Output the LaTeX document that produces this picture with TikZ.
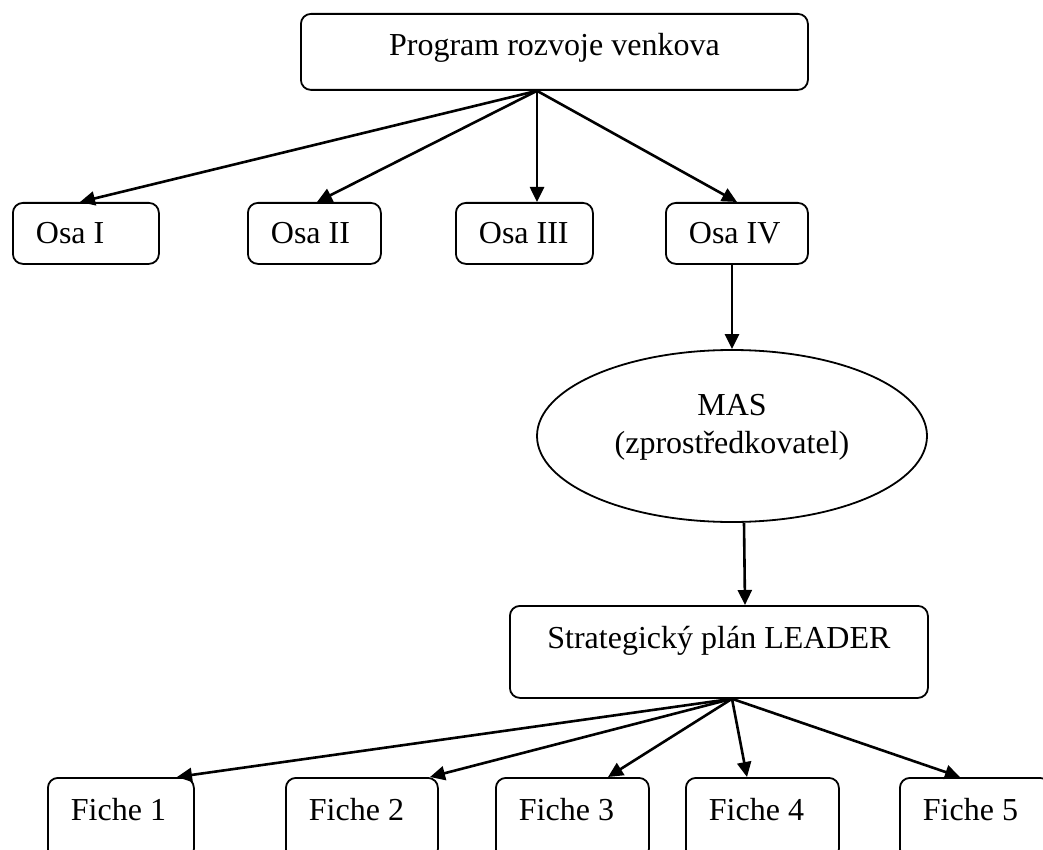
\documentclass[tikz,border=0pt]{standalone}
\usepackage{fontspec}
\setmainfont{Liberation Serif}
\usetikzlibrary{arrows.meta,calc,shapes.geometric}

\newcommand{\boxtext}[2]{\makebox[#1][l]{#2}}

\tikzset{
  box/.style={draw, line width=0.9pt, rounded corners=5pt, anchor=north west, inner ysep=0pt},
  osabox/.style={box, inner xsep=11.5pt, text height=20.5pt, text depth=10pt},
  fichebox/.style={box, inner xsep=11.5pt, text height=21.5pt, text depth=19pt},
  arrow/.style={->, line width=1.3pt},
}

\begin{document}
\begin{tikzpicture}[x=0.5pt, y=-0.5pt, >={Triangle[length=7.5pt,width=7pt]},
                    font=\fontsize{16}{19}\selectfont]
  \useasboundingbox (0,0) rectangle (1043,850);
  \clip (0,0) rectangle (1043,850);

  \node [box, minimum width=253.5pt, text height=21pt, text depth=17pt] (prog) at (300,13) {Program rozvoje venkova};

  \node [osabox] (osa1) at (12,202)  {\boxtext{50pt}{Osa I}};
  \node [osabox] (osa2) at (247,202) {\boxtext{43.5pt}{Osa II}};
  \node [osabox] (osa3) at (455,202) {\boxtext{45.5pt}{Osa III}};
  \node [osabox] (osa4) at (665,202) {\boxtext{48pt}{Osa IV}};

  \node [draw, ellipse, line width=0.9pt, minimum width=195pt, minimum height=86pt, inner sep=0pt, align=center]
        (mas) at (732,436) {MAS\\(zprostředkovatel)\rule[-12pt]{0pt}{0pt}};

  \node [box, minimum width=209pt, text height=21.5pt, text depth=24.5pt] (strat) at (509,605) {Strategický plán LEADER};

  \node [fichebox] (fiche1) at (47,777)  {\boxtext{50pt}{Fiche 1}};
  \node [fichebox] (fiche2) at (285,777) {\boxtext{53pt}{Fiche 2}};
  \node [fichebox] (fiche3) at (495,777) {\boxtext{53.5pt}{Fiche 3}};
  \node [fichebox] (fiche4) at (685,777) {\boxtext{53.5pt}{Fiche 4}};
  \node [fichebox] (fiche5) at (899,777) {\boxtext{52pt}{Fiche 5}};

  \coordinate (progout)  at ($(prog.south west)+(237,0)$);
  \coordinate (stratout) at ($(strat.south west)+(223,0)$);

  \draw [arrow] (progout) -- ($(osa1.north west)+(68,0)$);
  \draw [arrow] (progout) -- ($(osa2.north west)+(70,0)$);
  \draw [arrow] (progout) -- ($(osa3.north west)+(82,0)$);
  \draw [arrow] (progout) -- ($(osa4.north west)+(72,0)$);

  \draw [arrow] ($(osa4.south west)+(67,0)$) -- (mas.north);
  \draw [arrow] ($(mas.south)+(12,0)$) -- ($(strat.north west)+(236,0)$);

  \draw [arrow] (stratout) -- ($(fiche1.north west)+(130,0)$);
  \draw [arrow] (stratout) -- ($(fiche2.north west)+(145,0)$);
  \draw [arrow] (stratout) -- ($(fiche3.north west)+(113,0)$);
  \draw [arrow] (stratout) -- ($(fiche4.north west)+(62,0)$);
  \draw [arrow] (stratout) -- ($(fiche5.north west)+(61,0)$);
\end{tikzpicture}
\end{document}
